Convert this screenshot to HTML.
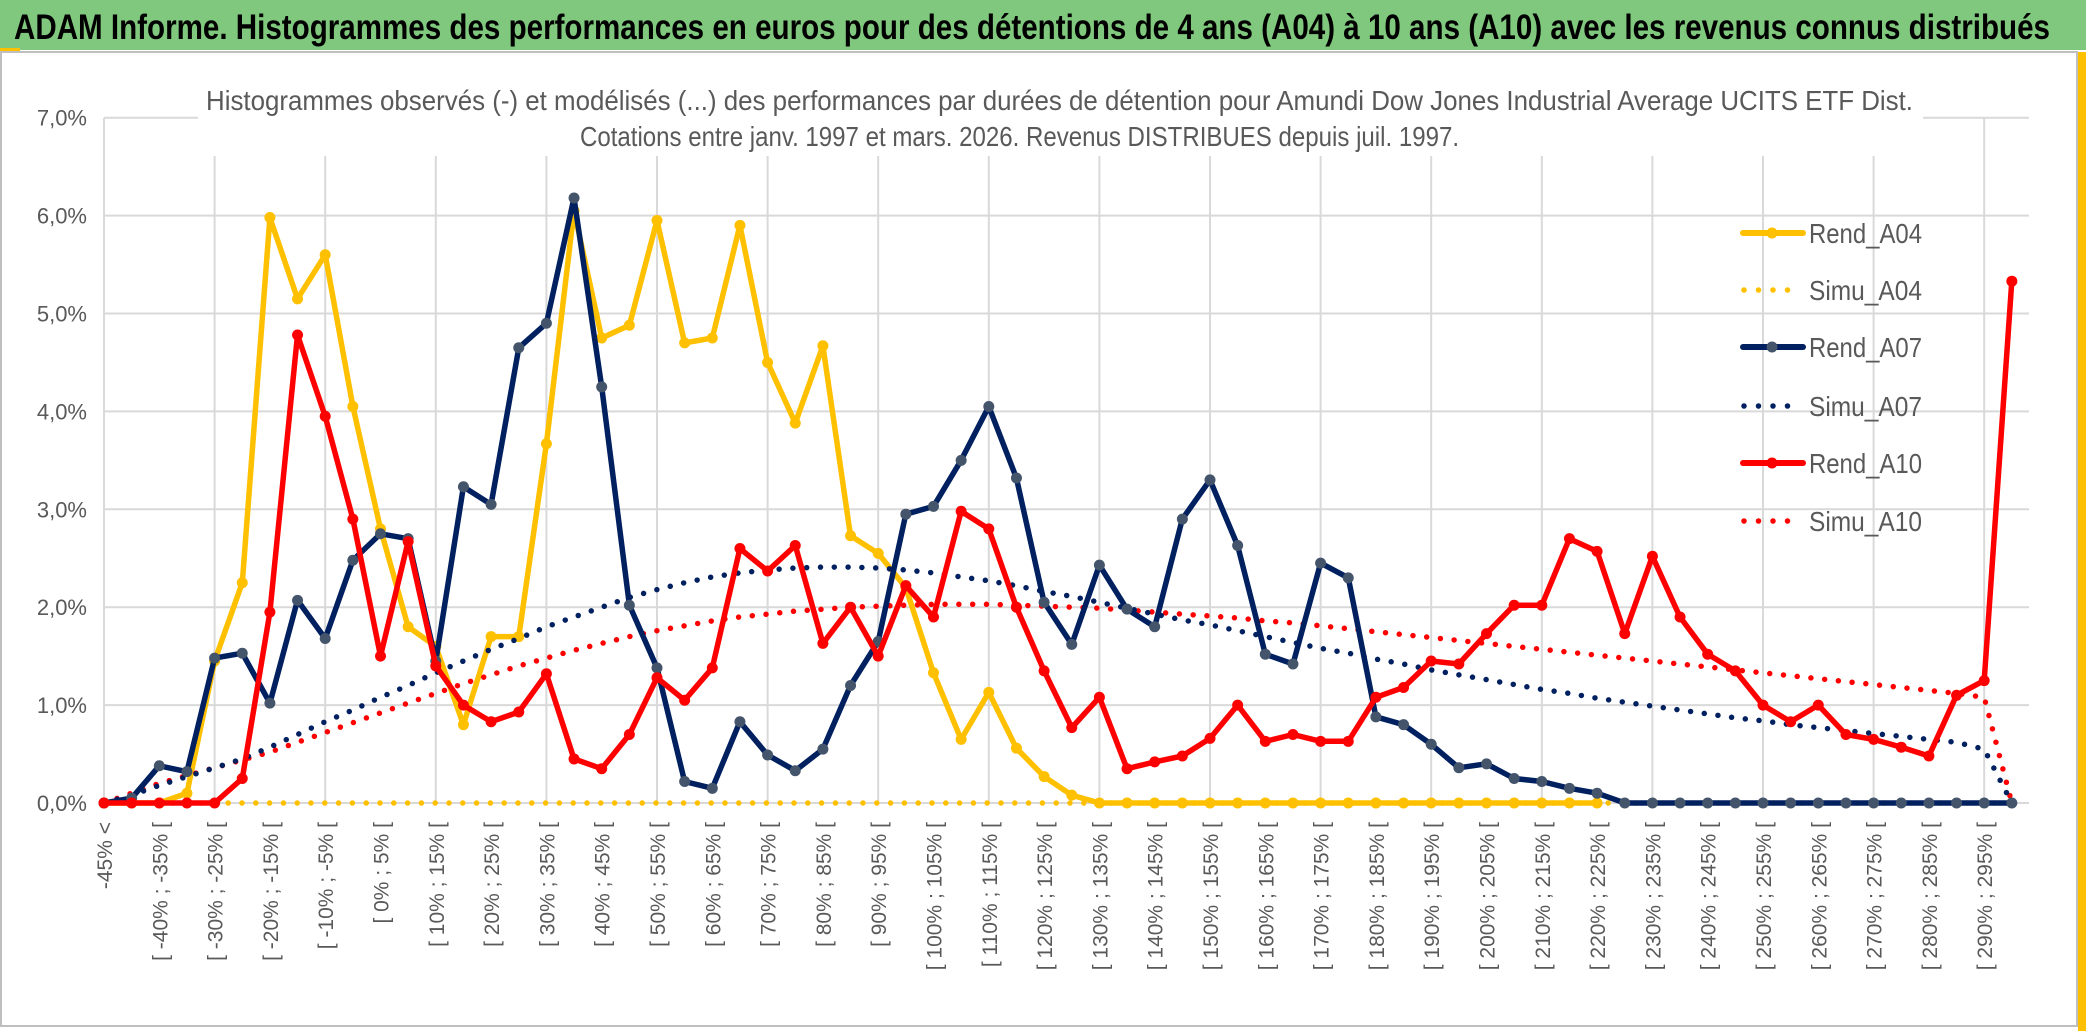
<!DOCTYPE html>
<html><head><meta charset="utf-8"><style>
html,body{margin:0;padding:0;background:#fff;}
#wrap{position:relative;width:2086px;height:1031px;overflow:hidden;font-family:"Liberation Sans",sans-serif;}
svg{position:absolute;left:0;top:0;}
</style></head><body>
<div id="wrap">
<svg id="chart" width="2086" height="1031" viewBox="0 0 2086 1031">
  <rect x="0" y="0" width="2086" height="1031" fill="#ffffff"/>
  <rect x="0" y="0" width="2086" height="50" fill="#80c87d"/>
  <rect x="0" y="48" width="20" height="4" fill="#ffc000"/>
  <rect x="2078" y="52" width="8" height="979" fill="#ffc000"/>
  <rect x="1" y="52" width="2076" height="974" fill="#fff" stroke="#bfbfbf" stroke-width="2"/>
  <text x="14" y="39" font-size="35" font-weight="bold" fill="#000" textLength="2036" lengthAdjust="spacingAndGlyphs">ADAM Informe. Histogrammes des performances en euros pour des détentions de 4 ans (A04) à 10 ans (A10) avec les revenus connus distribués</text>
  <g id="grid"></g>
  <g id="axes"></g>
  <rect x="198" y="74" width="1725" height="82" fill="#fff"/>
  <text x="206" y="110" font-size="28" fill="#595959" textLength="1707" lengthAdjust="spacingAndGlyphs">Histogrammes observés (-) et modélisés (...) des performances par durées de détention pour Amundi Dow Jones Industrial Average UCITS ETF Dist.</text>
  <text x="580" y="146" font-size="28" fill="#595959" textLength="879" lengthAdjust="spacingAndGlyphs">Cotations entre janv. 1997 et mars. 2026. Revenus DISTRIBUES depuis juil. 1997.</text>
  <g id="series"></g>
  <g id="legend"></g>
</svg>
</div>
<script>
const yTicks = [0,1,2,3,4,5,6,7];
const rendA04 = [0,0,0,0.1,1.45,2.25,5.98,5.15,5.6,4.05,2.8,1.8,1.6,0.8,1.7,1.7,3.67,6.05,4.75,4.88,5.95,4.7,4.75,5.9,4.5,3.88,4.67,2.73,2.55,2.2,1.33,0.65,1.13,0.56,0.27,0.08,0,0,0,0,0,0,0,0,0,0,0,0,0,0,0,0,0,0,0,null,null,null,null,null,null,null,null,null,null,null,null,null,null,null];
const simuA04 = [0,0,0,0,0,0,0,0,0,0,0,0,0,0,0,0,0,0,0,0,0,0,0,0,0,0,0,0,0,0,0,0,0,0,0,0,0,0,0,0,0,0,0,0,0,0,0,0,0,0,0,0,0,0,0,0,0,0,0,0,0,0,0,0,0,0,0,0,0,0];
const rendA07 = [0,0.05,0.38,0.32,1.48,1.53,1.02,2.07,1.68,2.48,2.75,2.7,1.45,3.23,3.05,4.65,4.9,6.18,4.25,2.02,1.38,0.22,0.15,0.83,0.49,0.33,0.55,1.2,1.65,2.95,3.03,3.5,4.05,3.32,2.05,1.62,2.43,1.98,1.8,2.9,3.3,2.63,1.52,1.42,2.45,2.3,0.88,0.8,0.6,0.36,0.4,0.25,0.22,0.15,0.1,0,0,0,0,0,0,0,0,0,0,0,0,0,0,0];
const simuA07 = [0,0.08,0.18,0.27,0.36,0.45,0.57,0.7,0.83,0.95,1.08,1.2,1.33,1.45,1.57,1.68,1.8,1.9,2.0,2.1,2.18,2.25,2.31,2.35,2.38,2.4,2.41,2.41,2.4,2.38,2.35,2.31,2.27,2.22,2.16,2.11,2.05,1.99,1.93,1.87,1.82,1.76,1.7,1.64,1.58,1.53,1.47,1.42,1.36,1.31,1.26,1.21,1.16,1.12,1.07,1.03,0.99,0.95,0.91,0.87,0.84,0.8,0.77,0.74,0.71,0.68,0.65,0.62,0.55,0];
const rendA10 = [0,0,0,0,0,0.25,1.95,4.78,3.95,2.9,1.5,2.67,1.4,1.0,0.83,0.93,1.32,0.45,0.35,0.7,1.28,1.05,1.38,2.6,2.37,2.63,1.63,2.0,1.5,2.22,1.9,2.98,2.8,2.0,1.35,0.77,1.08,0.35,0.42,0.48,0.66,1.0,0.63,0.7,0.63,0.63,1.08,1.18,1.45,1.42,1.73,2.02,2.02,2.7,2.57,1.73,2.52,1.9,1.52,1.35,1.0,0.83,1.0,0.7,0.65,0.57,0.48,1.1,1.25,5.33];
const simuA10 = [0,0.1,0.2,0.28,0.36,0.44,0.52,0.62,0.72,0.82,0.92,1.02,1.12,1.22,1.31,1.4,1.48,1.56,1.63,1.7,1.76,1.81,1.86,1.9,1.93,1.96,1.98,2.0,2.01,2.02,2.03,2.03,2.03,2.02,2.01,2.0,1.99,1.97,1.95,1.93,1.91,1.89,1.86,1.84,1.81,1.78,1.75,1.72,1.69,1.66,1.63,1.6,1.57,1.54,1.51,1.48,1.45,1.42,1.39,1.36,1.33,1.3,1.27,1.24,1.21,1.18,1.15,1.12,1.08,0];
const categories = [];
categories.push('-45% <');
for (let a = -45; a < 295; a += 5) categories.push('[ ' + a + '% ; ' + (a + 5) + '% [');
categories.push('> 295%');

const NS = 'http://www.w3.org/2000/svg';
const X0 = 104, XSTEP = 27.65, Y0 = 803, YU = 97.9, XR = 2029;
function xPos(i){ return X0 + i * XSTEP; }
function yPos(v){ return Y0 - v * YU; }
function mk(tag, attrs, parent){ const e = document.createElementNS(NS, tag); for (const k in attrs) e.setAttribute(k, attrs[k]); parent.appendChild(e); return e; }

const grid = document.getElementById('grid');
const axes = document.getElementById('axes');
yTicks.forEach(t => {
  const l = mk('line', {x1: X0, x2: XR, y1: yPos(t), y2: yPos(t), stroke: '#d9d9d9', 'stroke-width': 2}, grid);
  
  
  const tx = mk('text', {x: 87, y: yPos(t) + 8, 'text-anchor': 'end', 'font-size': 22, fill: '#595959'}, axes);
  tx.textContent = t.toFixed(1).replace('.', ',') + '%';
  
  
});
for (let i = 0; i < categories.length; i += 4) {
  const l = mk('line', {x1: xPos(i), x2: xPos(i), y1: yPos(0), y2: yPos(7), stroke: '#d9d9d9', 'stroke-width': 2}, grid);
  
  
}
for (let i = 0; i < categories.length; i += 2) {
  const x = xPos(i) + 8, y = 822;
  const tx = mk('text', {x: x, y: y, 'text-anchor': 'end', 'font-size': 21, fill: '#595959', transform: 'rotate(-90 ' + x + ' ' + y + ')'}, axes);
  tx.textContent = categories[i];
  
  
}

const seriesG = document.getElementById('series');
function drawSeries(data, color, dotted, markerFill, name){
  const g = mk('g', {}, seriesG);
  
  
  let d = '', started = false;
  data.forEach((v, i) => {
    if (v === null) { started = false; return; }
    d += (started ? 'L' : 'M') + xPos(i).toFixed(1) + ' ' + yPos(v).toFixed(1) + ' ';
    started = true;
  });
  if (dotted) {
    const p = mk('path', {d: d, fill: 'none', stroke: color, 'stroke-width': 5.5, 'stroke-linecap': 'round', 'stroke-dasharray': '0 13.8'}, g);
    
    
  } else {
    const p = mk('path', {d: d, fill: 'none', stroke: color, 'stroke-width': 5.5, 'stroke-linejoin': 'round'}, g);
    
    
    data.forEach((v, i) => {
      if (v === null) return;
      const c = mk('circle', {cx: xPos(i), cy: yPos(v), r: 5.5, fill: markerFill}, g);
      
      
    });
  }
}
drawSeries(simuA04, '#ffc000', true, null, 'simu-a04');
drawSeries(rendA04, '#ffc000', false, '#ffc000', 'rend-a04');
drawSeries(simuA10, '#ff0000', true, null, 'simu-a10');
drawSeries(simuA07, '#002060', true, null, 'simu-a07');
drawSeries(rendA07, '#002060', false, '#44546a', 'rend-a07');
drawSeries(rendA10, '#ff0000', false, '#ff0000', 'rend-a10');

const legendNames = ['Rend_A04','Simu_A04','Rend_A07','Simu_A07','Rend_A10','Simu_A10'];
const legendColors = ['#ffc000','#ffc000','#002060','#002060','#ff0000','#ff0000'];
const legendYs = [233, 290, 347, 406, 463, 521];
const lg = document.getElementById('legend');
legendNames.forEach((n, k) => {
  const g = mk('g', {}, lg);
  
  
  const y = legendYs[k];
  const dotted = n.startsWith('Simu');
  if (dotted) {
    mk('line', {x1: 1744, x2: 1800, y1: y, y2: y, stroke: legendColors[k], 'stroke-width': 5.5, 'stroke-linecap': 'round', 'stroke-dasharray': '0 14.5'}, g);
  } else {
    mk('line', {x1: 1743, x2: 1803, y1: y, y2: y, stroke: legendColors[k], 'stroke-width': 6, 'stroke-linecap': 'round'}, g);
    mk('circle', {cx: 1772, cy: y, r: 5.5, fill: n === 'Rend_A07' ? '#44546a' : legendColors[k]}, g);
  }
  const t = mk('text', {x: 1809, y: y + 10, 'font-size': 28, fill: '#595959', textLength: 113, lengthAdjust: 'spacingAndGlyphs'}, g);
  t.textContent = n;
});
</script>
</body></html>
